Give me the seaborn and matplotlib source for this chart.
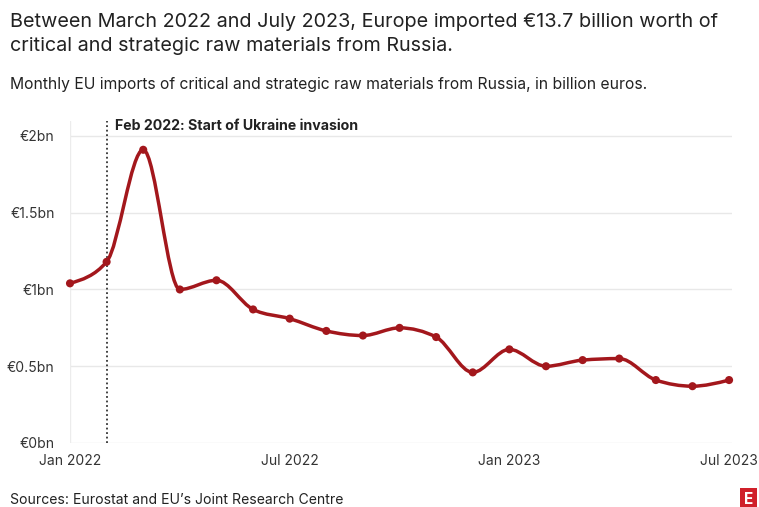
import numpy as np
import pandas as pd
import matplotlib
matplotlib.use("Agg")
import matplotlib.pyplot as plt
from matplotlib.path import Path
from matplotlib.patches import PathPatch
import seaborn as sns

# Data (billion euros per month)
months = ["Jan 2022", "Feb 2022", "Mar 2022", "Apr 2022", "May 2022", "Jun 2022",
          "Jul 2022", "Aug 2022", "Sep 2022", "Oct 2022", "Nov 2022", "Dec 2022",
          "Jan 2023", "Feb 2023", "Mar 2023", "Apr 2023", "May 2023", "Jun 2023",
          "Jul 2023"]
imports_bn = [1.04, 1.18, 1.91, 1.00, 1.06, 0.87, 0.81, 0.73, 0.70, 0.75,
              0.69, 0.46, 0.61, 0.50, 0.54, 0.55, 0.41, 0.37, 0.41]
xtick_labels = ["Jan 2022", "Jul 2022", "Jan 2023", "Jul 2023"]
ytick_values = [0, 0.5, 1, 1.5, 2]
ytick_labels = ["€0bn", "€0.5bn", "€1bn", "€1.5bn", "€2bn"]
invasion_month = "Feb 2022"

RED = "#a3171c"
TXT = "#222222"

sns.set_theme(style="white")
plt.rcParams['font.family'] = ['Inter', 'DejaVu Sans']

df = pd.DataFrame({"month": months, "value": imports_bn})
df["idx"] = np.arange(len(df))

fig = plt.figure(figsize=(7.59, 5.07), dpi=100)
ax = fig.add_axes([70 / 759, 1 - 443 / 507, 662 / 759, 322.4 / 507])


def monotone_path(x, y):
    # smooth monotone-x curve through the points (same idea as d3.curveMonotoneX)
    x = np.asarray(x, float)
    y = np.asarray(y, float)
    h = np.diff(x)
    s = np.diff(y) / h
    m = np.zeros_like(y)
    for i in range(1, len(y) - 1):
        p = (s[i - 1] * h[i] + s[i] * h[i - 1]) / (h[i - 1] + h[i])
        m[i] = (np.sign(s[i - 1]) + np.sign(s[i])) * min(abs(s[i - 1]), abs(s[i]), 0.5 * abs(p))
    m[0] = (3 * s[0] - m[1]) / 2
    m[-1] = (3 * s[-1] - m[-2]) / 2
    verts = [(x[0], y[0])]
    codes = [Path.MOVETO]
    for i in range(len(x) - 1):
        d = h[i] / 3
        verts += [(x[i] + d, y[i] + m[i] * d),
                  (x[i + 1] - d, y[i + 1] - m[i + 1] * d),
                  (x[i + 1], y[i + 1])]
        codes += [Path.CURVE4] * 3
    return Path(verts, codes)


ax.add_patch(PathPatch(monotone_path(df["idx"], df["value"]), fill=False,
                       edgecolor=RED, lw=2.5, capstyle="round", joinstyle="round",
                       clip_on=False, zorder=3))
sns.scatterplot(data=df, x="idx", y="value", color=RED, s=34, edgecolor="none",
                ax=ax, zorder=4, clip_on=False, legend=False)

# invasion marker
inv_x = months.index(invasion_month)
ax.axvline(inv_x, ymin=0, ymax=1.01, color="#333333", lw=1.3, ls=(0, (1, 1.5)), zorder=2)
ax.text(inv_x + 0.22, 2.02, "Feb 2022: Start of Ukraine invasion", fontsize=10.2,
        fontweight="bold", color=TXT, va="bottom", ha="left")

ax.set_xlim(0, 18.08)
ax.set_ylim(0, 2.1)
ax.set_yticks(ytick_values)
ax.set_yticklabels(ytick_labels)
ax.set_xticks([months.index(m) for m in xtick_labels])
ax.set_xticklabels(xtick_labels)
ax.grid(axis="y", color="#e8e8e8", lw=1)
ax.axvline(0, color="#ececec", lw=1, zorder=1)
ax.tick_params(axis="y", length=0, pad=11, labelsize=10, labelcolor="#333333")
ax.tick_params(axis="x", length=3, color="#e0e0e0", pad=5, labelsize=10, labelcolor="#333333")
for sp in ax.spines.values():
    sp.set_visible(False)
ax.set_xlabel("")
ax.set_ylabel("")

fig.text(10 / 759, 1 - 22 / 507, "Between March 2022 and July 2023, Europe imported €13.7 billion worth of",
         fontsize=14.25, color=TXT, va="center", ha="left")
fig.text(10 / 759, 1 - 46 / 507, "critical and strategic raw materials from Russia.",
         fontsize=14.25, color=TXT, va="center", ha="left")
fig.text(10 / 759, 1 - 85 / 507, "Monthly EU imports of critical and strategic raw materials from Russia, in billion euros.",
         fontsize=11.3, color=TXT, va="center", ha="left")
fig.text(10 / 759, 1 - 500 / 507, "Sources: Eurostat and EU\u2019s Joint Research Centre",
         fontsize=10.1, color=TXT, va="center", ha="left")
fig.text(744 / 759, 1 - 499 / 507, "E", fontsize=11, fontweight="bold", color="white",
         va="center", ha="left",
         bbox=dict(boxstyle="square,pad=0.25", facecolor="#d0202a", edgecolor="none"))

fig.savefig("out.png", dpi=100, facecolor="white")
